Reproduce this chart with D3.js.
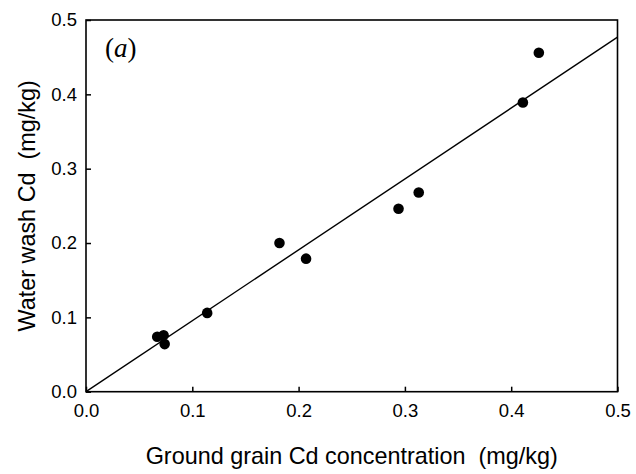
<!DOCTYPE html>
<html>
<head>
<meta charset="utf-8">
<script src="https://cdn.jsdelivr.net/npm/d3@7"></script>
<style>
  body { margin: 0; background: #fff; }
</style>
</head>
<body>
<div class="chart"></div>
<script>
// ground grain Cd vs water wash Cd (mg/kg)
const grainCd = [0.067, 0.073, 0.074, 0.114, 0.182, 0.207, 0.294, 0.313, 0.411, 0.426];
const washCd  = [0.074, 0.076, 0.064, 0.106, 0.200, 0.179, 0.246, 0.268, 0.389, 0.456];
const fitX = [0, 0.5];
const fitY = [0, 0.477];
const xTicks = [0, 0.1, 0.2, 0.3, 0.4, 0.5];
const yTicks = [0, 0.1, 0.2, 0.3, 0.4, 0.5];

const width = 636;
const height = 474;
const margin = {top: 20, right: 18.5, bottom: 82.3, left: 86};

const svg = d3.select('.chart')
  .append('svg')
    .attr('width', width)
    .attr('height', height);

const x = d3.scaleLinear()
  .domain([0, 0.5])
  .range([margin.left, width - margin.right]);

const y = d3.scaleLinear()
  .domain([0, 0.5])
  .range([height - margin.bottom, margin.top]);

const font = 'Liberation Sans, Arial, sans-serif';

const xAxis = g => g
  .attr('transform', `translate(0, ${height - margin.bottom})`)
  .call(d3.axisBottom(x).tickValues(xTicks).tickFormat(d3.format('.1f'))
    .tickSizeInner(-5).tickSizeOuter(0).tickPadding(12))
  .call(g => g.select('.domain').remove());

const yAxis = g => g
  .attr('transform', `translate(${margin.left}, 0)`)
  .call(d3.axisLeft(y).tickValues(yTicks).tickFormat(d3.format('.1f'))
    .tickSizeInner(-5).tickSizeOuter(0).tickPadding(9))
  .call(g => g.select('.domain').remove());

svg.append('g').call(xAxis);
svg.append('g').call(yAxis);

svg.selectAll('.tick line').attr('stroke', '#000').attr('stroke-width', 1.5);
svg.selectAll('.tick text')
  .attr('fill', '#000')
  .attr('font-family', font)
  .attr('font-size', 18.5);

// frame
svg.append('rect')
  .attr('x', x(0))
  .attr('y', y(0.5))
  .attr('width', x(0.5) - x(0))
  .attr('height', y(0) - y(0.5))
  .attr('fill', 'none')
  .attr('stroke', '#000')
  .attr('stroke-width', 1.6);

// regression line
svg.append('line')
  .attr('x1', x(fitX[0]))
  .attr('y1', y(fitY[0]))
  .attr('x2', x(fitX[1]))
  .attr('y2', y(fitY[1]))
  .attr('stroke', '#000')
  .attr('stroke-width', 1.4);

svg.append('g')
  .selectAll('circle')
  .data(grainCd)
  .join('circle')
    .attr('cx', d => x(d))
    .attr('cy', (d, i) => y(washCd[i]))
    .attr('r', 5.3)
    .attr('fill', '#000');

svg.append('text')
  .attr('x', (x(0) + x(0.5)) / 2)
  .attr('y', 464)
  .attr('text-anchor', 'middle')
  .attr('font-family', font)
  .attr('font-size', 23.4)
  .style('white-space', 'pre')
  .text('Ground grain Cd concentration  (mg/kg)');

svg.append('text')
  .attr('transform', `translate(35, ${(y(0) + y(0.5)) / 2}) rotate(-90)`)
  .attr('text-anchor', 'middle')
  .attr('font-family', font)
  .attr('font-size', 23.4)
  .style('white-space', 'pre')
  .text('Water wash Cd  (mg/kg)');

const label = svg.append('text')
  .attr('x', 105)
  .attr('y', 57)
  .attr('font-family', 'Liberation Serif, Times New Roman, serif')
  .attr('font-size', 27);
label.append('tspan').text('(');
label.append('tspan').attr('font-style', 'italic').text('a');
label.append('tspan').text(')');
</script>
</body>
</html>
